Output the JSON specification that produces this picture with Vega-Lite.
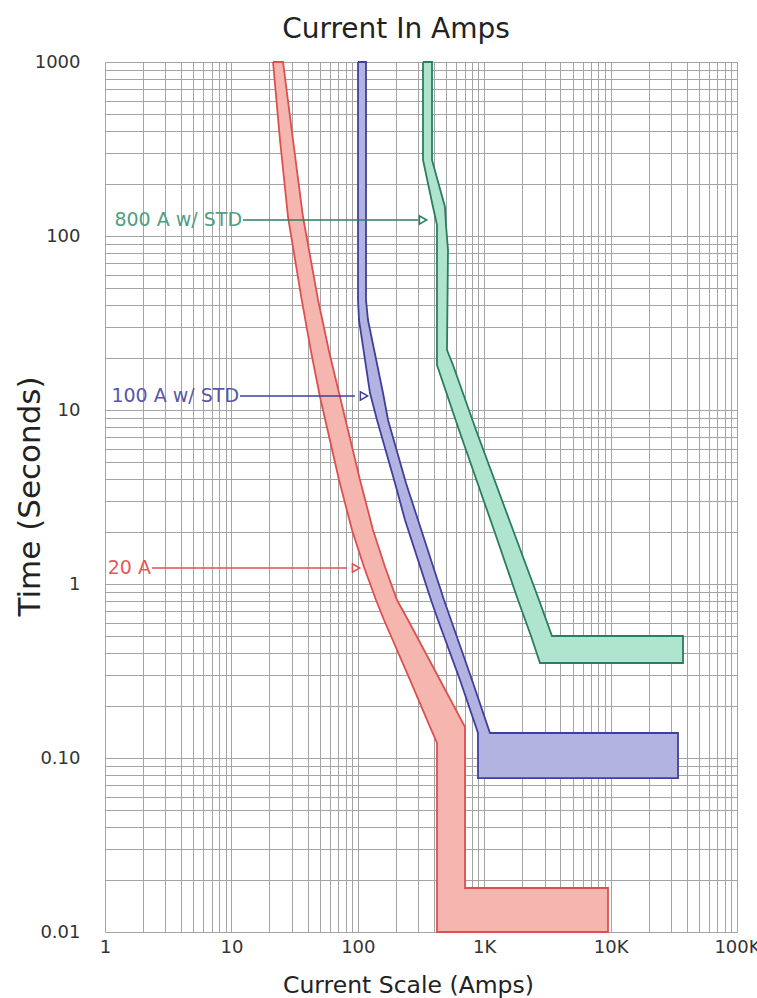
{
  "$schema": "https://vega.github.io/schema/vega-lite/v6.json",
  "width": 632,
  "height": 870,
  "autosize": "none",
  "padding": {"left": 105, "top": 62, "right": 20, "bottom": 66},
  "background": "white",
  "config": {
    "font": "DejaVu Sans",
    "view": {"stroke": null},
    "axis": {"gridColor": "#a4a4a4", "gridOpacity": 1, "gridWidth": 1, "ticks": false, "domain": false, "labelColor": "#333333", "titleColor": "#222222", "titleFontWeight": "normal", "labelOverlap": false, "labelBound": false, "labelFlush": false}
  },
  "title": {"text": "Current In Amps", "fontSize": 28, "fontWeight": "normal", "color": "#222222", "anchor": "middle", "frame": "group", "dx": -25, "offset": -13, "baseline": "alphabetic"},
  "datasets": {
    "areas": [
      {"band": "20 A", "t": 1000, "lo": 21.34, "hi": 25.6},
      {"band": "20 A", "t": 356.1, "lo": 24.24, "hi": 30.72},
      {"band": "20 A", "t": 128.6, "lo": 28.04, "hi": 36.86},
      {"band": "20 A", "t": 42.9, "lo": 36.0, "hi": 48.5},
      {"band": "20 A", "t": 21.6, "lo": 42.7, "hi": 59.3},
      {"band": "20 A", "t": 11.88, "lo": 50.23, "hi": 72.33},
      {"band": "20 A", "t": 3.959, "lo": 71.03, "hi": 104.1},
      {"band": "20 A", "t": 2.043, "lo": 89.97, "hi": 131.9},
      {"band": "20 A", "t": 1.252, "lo": 111.9, "hi": 164.2},
      {"band": "20 A", "t": 0.809, "lo": 139.3, "hi": 204.2},
      {"band": "20 A", "t": 0.621, "lo": 161.2, "hi": 249.6},
      {"band": "20 A", "t": 0.2808, "lo": 258.8, "hi": 447.0},
      {"band": "20 A", "t": 0.1508, "lo": 372.6, "hi": 704.9},
      {"band": "20 A", "t": 0.122, "lo": 423.2, "hi": 704.9},
      {"band": "20 A", "t": 0.0179, "lo": 423.2, "hi": 704.9},
      {"band": "100 A w/ STD", "t": 1000, "lo": 100.4, "hi": 116.1},
      {"band": "100 A w/ STD", "t": 42.9, "lo": 100.4, "hi": 116.1},
      {"band": "100 A w/ STD", "t": 32.9, "lo": 102.2, "hi": 120.4},
      {"band": "100 A w/ STD", "t": 12.52, "lo": 124.9, "hi": 158.3},
      {"band": "100 A w/ STD", "t": 8.76, "lo": 141.9, "hi": 173.4},
      {"band": "100 A w/ STD", "t": 3.806, "lo": 196.8, "hi": 240.6},
      {"band": "100 A w/ STD", "t": 2.332, "lo": 236.3, "hi": 299.5},
      {"band": "100 A w/ STD", "t": 0.809, "lo": 379.5, "hi": 480.8},
      {"band": "100 A w/ STD", "t": 0.621, "lo": 430.9, "hi": 546.1},
      {"band": "100 A w/ STD", "t": 0.2808, "lo": 643.4, "hi": 800.8},
      {"band": "100 A w/ STD", "t": 0.1392, "lo": 893.0, "hi": 1111},
      {"band": "800 A w/ STD", "t": 1000, "lo": 328.0, "hi": 386.4},
      {"band": "800 A w/ STD", "t": 273.4, "lo": 328.0, "hi": 386.4},
      {"band": "800 A w/ STD", "t": 146.8, "lo": 393.5, "hi": 489.6},
      {"band": "800 A w/ STD", "t": 115.7, "lo": 423.2, "hi": 498.6},
      {"band": "800 A w/ STD", "t": 83.1, "lo": 423.2, "hi": 517.1},
      {"band": "800 A w/ STD", "t": 22.1, "lo": 423.2, "hi": 507.7},
      {"band": "800 A w/ STD", "t": 18.14, "lo": 423.2, "hi": 566.4},
      {"band": "800 A w/ STD", "t": 7.675, "lo": 631.9, "hi": 861.1},
      {"band": "800 A w/ STD", "t": 2.043, "lo": 1195, "hi": 1690},
      {"band": "800 A w/ STD", "t": 0.809, "lo": 1851, "hi": 2713},
      {"band": "800 A w/ STD", "t": 0.5026, "lo": 2346, "hi": 3439},
      {"band": "800 A w/ STD", "t": 0.3516, "lo": 2764, "hi": 3439}
    ],
    "boxes": [
      {"band": "20 A", "lo": 423.2, "hi": 9537, "t1": 0.0179, "t2": 0.01},
      {"band": "100 A w/ STD", "lo": 893.0, "hi": 34140, "t1": 0.1392, "t2": 0.0767},
      {"band": "800 A w/ STD", "lo": 2764, "hi": 37400, "t1": 0.5026, "t2": 0.3516}
    ],
    "outline": [
      {"band": "20 A", "i": 0, "a": 21.34, "t": 1000},
      {"band": "20 A", "i": 1, "a": 24.24, "t": 356.1},
      {"band": "20 A", "i": 2, "a": 28.04, "t": 128.6},
      {"band": "20 A", "i": 3, "a": 36.0, "t": 42.9},
      {"band": "20 A", "i": 4, "a": 42.7, "t": 21.6},
      {"band": "20 A", "i": 5, "a": 50.23, "t": 11.88},
      {"band": "20 A", "i": 6, "a": 71.03, "t": 3.959},
      {"band": "20 A", "i": 7, "a": 89.97, "t": 2.043},
      {"band": "20 A", "i": 8, "a": 111.9, "t": 1.252},
      {"band": "20 A", "i": 9, "a": 139.3, "t": 0.809},
      {"band": "20 A", "i": 10, "a": 161.2, "t": 0.621},
      {"band": "20 A", "i": 11, "a": 258.8, "t": 0.2808},
      {"band": "20 A", "i": 12, "a": 372.6, "t": 0.1508},
      {"band": "20 A", "i": 13, "a": 423.2, "t": 0.122},
      {"band": "20 A", "i": 14, "a": 423.2, "t": 0.01},
      {"band": "20 A", "i": 15, "a": 9537, "t": 0.01},
      {"band": "20 A", "i": 16, "a": 9537, "t": 0.0179},
      {"band": "20 A", "i": 17, "a": 704.9, "t": 0.0179},
      {"band": "20 A", "i": 18, "a": 704.9, "t": 0.1508},
      {"band": "20 A", "i": 19, "a": 447.0, "t": 0.2808},
      {"band": "20 A", "i": 20, "a": 249.6, "t": 0.621},
      {"band": "20 A", "i": 21, "a": 204.2, "t": 0.809},
      {"band": "20 A", "i": 22, "a": 164.2, "t": 1.252},
      {"band": "20 A", "i": 23, "a": 131.9, "t": 2.043},
      {"band": "20 A", "i": 24, "a": 104.1, "t": 3.959},
      {"band": "20 A", "i": 25, "a": 72.33, "t": 11.88},
      {"band": "20 A", "i": 26, "a": 59.3, "t": 21.6},
      {"band": "20 A", "i": 27, "a": 48.5, "t": 42.9},
      {"band": "20 A", "i": 28, "a": 36.86, "t": 128.6},
      {"band": "20 A", "i": 29, "a": 30.72, "t": 356.1},
      {"band": "20 A", "i": 30, "a": 25.6, "t": 1000},
      {"band": "20 A", "i": 31, "a": 21.34, "t": 1000},
      {"band": "100 A w/ STD", "i": 0, "a": 100.4, "t": 1000},
      {"band": "100 A w/ STD", "i": 1, "a": 100.4, "t": 42.9},
      {"band": "100 A w/ STD", "i": 2, "a": 102.2, "t": 32.9},
      {"band": "100 A w/ STD", "i": 3, "a": 124.9, "t": 12.52},
      {"band": "100 A w/ STD", "i": 4, "a": 141.9, "t": 8.76},
      {"band": "100 A w/ STD", "i": 5, "a": 196.8, "t": 3.806},
      {"band": "100 A w/ STD", "i": 6, "a": 236.3, "t": 2.332},
      {"band": "100 A w/ STD", "i": 7, "a": 379.5, "t": 0.809},
      {"band": "100 A w/ STD", "i": 8, "a": 430.9, "t": 0.621},
      {"band": "100 A w/ STD", "i": 9, "a": 643.4, "t": 0.2808},
      {"band": "100 A w/ STD", "i": 10, "a": 893.0, "t": 0.1392},
      {"band": "100 A w/ STD", "i": 11, "a": 893.0, "t": 0.0767},
      {"band": "100 A w/ STD", "i": 12, "a": 34140, "t": 0.0767},
      {"band": "100 A w/ STD", "i": 13, "a": 34140, "t": 0.1392},
      {"band": "100 A w/ STD", "i": 14, "a": 1111, "t": 0.1392},
      {"band": "100 A w/ STD", "i": 15, "a": 800.8, "t": 0.2808},
      {"band": "100 A w/ STD", "i": 16, "a": 546.1, "t": 0.621},
      {"band": "100 A w/ STD", "i": 17, "a": 480.8, "t": 0.809},
      {"band": "100 A w/ STD", "i": 18, "a": 299.5, "t": 2.332},
      {"band": "100 A w/ STD", "i": 19, "a": 240.6, "t": 3.806},
      {"band": "100 A w/ STD", "i": 20, "a": 173.4, "t": 8.76},
      {"band": "100 A w/ STD", "i": 21, "a": 158.3, "t": 12.52},
      {"band": "100 A w/ STD", "i": 22, "a": 120.4, "t": 32.9},
      {"band": "100 A w/ STD", "i": 23, "a": 116.1, "t": 42.9},
      {"band": "100 A w/ STD", "i": 24, "a": 116.1, "t": 1000},
      {"band": "100 A w/ STD", "i": 25, "a": 100.4, "t": 1000},
      {"band": "800 A w/ STD", "i": 0, "a": 328.0, "t": 1000},
      {"band": "800 A w/ STD", "i": 1, "a": 328.0, "t": 273.4},
      {"band": "800 A w/ STD", "i": 2, "a": 393.5, "t": 146.8},
      {"band": "800 A w/ STD", "i": 3, "a": 423.2, "t": 115.7},
      {"band": "800 A w/ STD", "i": 4, "a": 423.2, "t": 18.14},
      {"band": "800 A w/ STD", "i": 5, "a": 631.9, "t": 7.675},
      {"band": "800 A w/ STD", "i": 6, "a": 1195, "t": 2.043},
      {"band": "800 A w/ STD", "i": 7, "a": 1851, "t": 0.809},
      {"band": "800 A w/ STD", "i": 8, "a": 2346, "t": 0.5026},
      {"band": "800 A w/ STD", "i": 9, "a": 2764, "t": 0.3516},
      {"band": "800 A w/ STD", "i": 10, "a": 37400, "t": 0.3516},
      {"band": "800 A w/ STD", "i": 11, "a": 37400, "t": 0.5026},
      {"band": "800 A w/ STD", "i": 12, "a": 3439, "t": 0.5026},
      {"band": "800 A w/ STD", "i": 13, "a": 2713, "t": 0.809},
      {"band": "800 A w/ STD", "i": 14, "a": 1690, "t": 2.043},
      {"band": "800 A w/ STD", "i": 15, "a": 861.1, "t": 7.675},
      {"band": "800 A w/ STD", "i": 16, "a": 566.4, "t": 18.14},
      {"band": "800 A w/ STD", "i": 17, "a": 507.7, "t": 22.1},
      {"band": "800 A w/ STD", "i": 18, "a": 517.1, "t": 83.1},
      {"band": "800 A w/ STD", "i": 19, "a": 498.6, "t": 115.7},
      {"band": "800 A w/ STD", "i": 20, "a": 489.6, "t": 146.8},
      {"band": "800 A w/ STD", "i": 21, "a": 386.4, "t": 273.4},
      {"band": "800 A w/ STD", "i": 22, "a": 386.4, "t": 1000},
      {"band": "800 A w/ STD", "i": 23, "a": 328.0, "t": 1000}
    ],
    "labels": [
      {"band": "800 A w/ STD", "label": "800 A w/ STD", "t": 123.6, "x0": 12.36, "x1": 299.5, "xa": 328},
      {"band": "100 A w/ STD", "label": "100 A w/ STD", "t": 12.04, "x0": 11.7, "x1": 95.0, "xa": 111.9},
      {"band": "20 A", "label": "20 A", "t": 1.236, "x0": 2.354, "x1": 82.1, "xa": 96.8}
    ]
  },
  "layer": [
    {
      "data": {"name": "areas"},
      "mark": {"type": "area", "orient": "horizontal", "interpolate": "linear"},
      "encoding": {
        "y": {"field": "t", "type": "quantitative",
          "scale": {"type": "log", "domain": [0.01, 1000], "nice": false},
          "axis": {"title": "Time (Seconds)",
            "values": [0.01, 0.02, 0.03, 0.04, 0.05, 0.06, 0.07, 0.08, 0.09, 0.1, 0.2, 0.3, 0.4, 0.5, 0.6, 0.7, 0.8, 0.9, 1, 2, 3, 4, 5, 6, 7, 8, 9, 10, 20, 30, 40, 50, 60, 70, 80, 90, 100, 200, 300, 400, 500, 600, 700, 800, 900, 1000],
            "labelExpr": "datum.value == 0.01 ? '0.01' : datum.value == 0.1 ? '0.10' : datum.value == 1 ? '1' : datum.value == 10 ? '10' : datum.value == 100 ? '100' : datum.value == 1000 ? '1000' : ''",
            "labelFontSize": 18, "labelPadding": 25, "labelDy": -2,
            "titleFontSize": 31, "titleX": -75, "titleY": 434, "titleAngle": -90, "titleAlign": "center", "titleBaseline": "middle"}},
        "x": {"field": "lo", "type": "quantitative",
          "scale": {"type": "log", "domain": [1, 100000], "nice": false},
          "axis": {"title": "Current Scale (Amps)",
            "values": [1, 2, 3, 4, 5, 6, 7, 8, 9, 10, 20, 30, 40, 50, 60, 70, 80, 90, 100, 200, 300, 400, 500, 600, 700, 800, 900, 1000, 2000, 3000, 4000, 5000, 6000, 7000, 8000, 9000, 10000, 20000, 30000, 40000, 50000, 60000, 70000, 80000, 90000, 100000],
            "labelExpr": "datum.value == 1 ? '1' : datum.value == 10 ? '10' : datum.value == 100 ? '100' : datum.value == 1000 ? '1K' : datum.value == 10000 ? '10K' : datum.value == 100000 ? '100K' : ''",
            "labelFontSize": 18, "labelPadding": 6, "labelDx": -3,
            "titleFontSize": 23.5, "titleX": 303, "titleY": 60, "titleAlign": "center", "titleBaseline": "alphabetic"}},
        "x2": {"field": "hi"},
        "fill": {"field": "band", "type": "nominal", "legend": null,
          "scale": {"domain": ["20 A", "100 A w/ STD", "800 A w/ STD"], "range": ["#f4b6ae", "#b3b3e2", "#afe4cf"]}}
      }
    },
    {
      "data": {"name": "boxes"},
      "mark": {"type": "rect"},
      "encoding": {
        "x": {"field": "lo", "type": "quantitative"},
        "x2": {"field": "hi"},
        "y": {"field": "t1", "type": "quantitative"},
        "y2": {"field": "t2"},
        "fill": {"field": "band", "type": "nominal", "legend": null}
      }
    },
    {
      "data": {"name": "outline"},
      "mark": {"type": "line", "strokeWidth": 1.8, "interpolate": "linear"},
      "encoding": {
        "x": {"field": "a", "type": "quantitative"},
        "y": {"field": "t", "type": "quantitative"},
        "order": {"field": "i", "type": "quantitative"},
        "stroke": {"field": "band", "type": "nominal", "legend": null,
          "scale": {"domain": ["20 A", "100 A w/ STD", "800 A w/ STD"], "range": ["#de5050", "#3f3f9c", "#2c7c60"]}}
      }
    },
    {
      "data": {"name": "labels"},
      "mark": {"type": "rule", "strokeWidth": 1.5},
      "encoding": {
        "x": {"field": "x0", "type": "quantitative"},
        "x2": {"field": "x1"},
        "y": {"field": "t", "type": "quantitative"},
        "stroke": {"field": "band", "type": "nominal", "legend": null}
      }
    },
    {
      "data": {"name": "labels"},
      "mark": {"type": "point", "shape": "triangle-right", "size": 70, "filled": false, "fill": "white", "fillOpacity": 1, "strokeWidth": 1.5, "opacity": 1},
      "encoding": {
        "x": {"field": "xa", "type": "quantitative"},
        "y": {"field": "t", "type": "quantitative"},
        "stroke": {"field": "band", "type": "nominal", "legend": null}
      }
    },
    {
      "data": {"name": "labels"},
      "mark": {"type": "text", "align": "right", "baseline": "middle", "fontSize": 19, "dx": -1},
      "encoding": {
        "x": {"field": "x0", "type": "quantitative"},
        "y": {"field": "t", "type": "quantitative"},
        "text": {"field": "label"},
        "color": {"field": "band", "type": "nominal", "legend": null,
          "scale": {"domain": ["20 A", "100 A w/ STD", "800 A w/ STD"], "range": ["#e25b5b", "#5858a8", "#4f9f80"]}}
      }
    }
  ]
}
